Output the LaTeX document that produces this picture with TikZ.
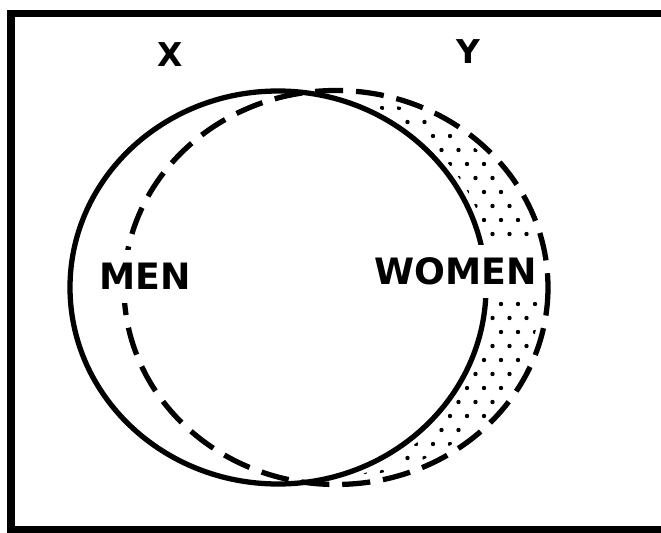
\documentclass[tikz,border=0pt]{standalone}
\usepackage{fontspec}
\newfontfamily\vennfont{DejaVu Sans}
\begin{document}
\begin{tikzpicture}[
    x=0.03cm, y=-0.03cm,
    every node/.style={font=\vennfont\bfseries\fontsize{31}{31}\selectfont, inner sep=0pt},
    setlabel/.style={font=\vennfont\bfseries\fontsize{28}{28}\selectfont},
    grouplabel/.style={fill=white, text height=23pt, text depth=0pt, inner xsep=1pt, inner ysep=11pt},
    setline/.style={line width=4.5pt},
    dashline/.style={line width=4.5pt, dash pattern=on 24pt off 11pt},
  ]
  \useasboundingbox (0,0) rectangle (661,533);

  \coordinate (cx) at (278,287.5);
  \coordinate (cy) at (336,287.5);

  % frame, right side is cut off
  \draw[line width=6.5pt] (670,13.5) -- (11,13.5) -- (11,530) -- (670,530);

  % stipple: inside Y, outside X
  \begin{scope}[even odd rule]
    \clip (cy) ellipse [x radius=205, y radius=190];
    \clip (0,0) rectangle (661,533) (cx) ellipse [x radius=215, y radius=203];
    \foreach \x in {280,297,...,570}
      \foreach \y in {80,108,...,500}
        {
          \fill (\x,\y) circle [radius=2.2];
          \fill (\x+8.5,\y+14) circle [radius=2.2];
        }
  \end{scope}

  \draw[setline] (cx) ellipse [x radius=208, y radius=196.5];
  \draw[dashline] (cy) ellipse [x radius=212, y radius=197];

  \node[setlabel] (x) at (170.5,54.5) {X};
  \node[setlabel] (y) at (468.5,51.5) {Y};
  \node[grouplabel] (men) at (145,276.5) {MEN};
  \node[grouplabel] (women) at (456,271.5) {WOMEN};
\end{tikzpicture}
\end{document}
